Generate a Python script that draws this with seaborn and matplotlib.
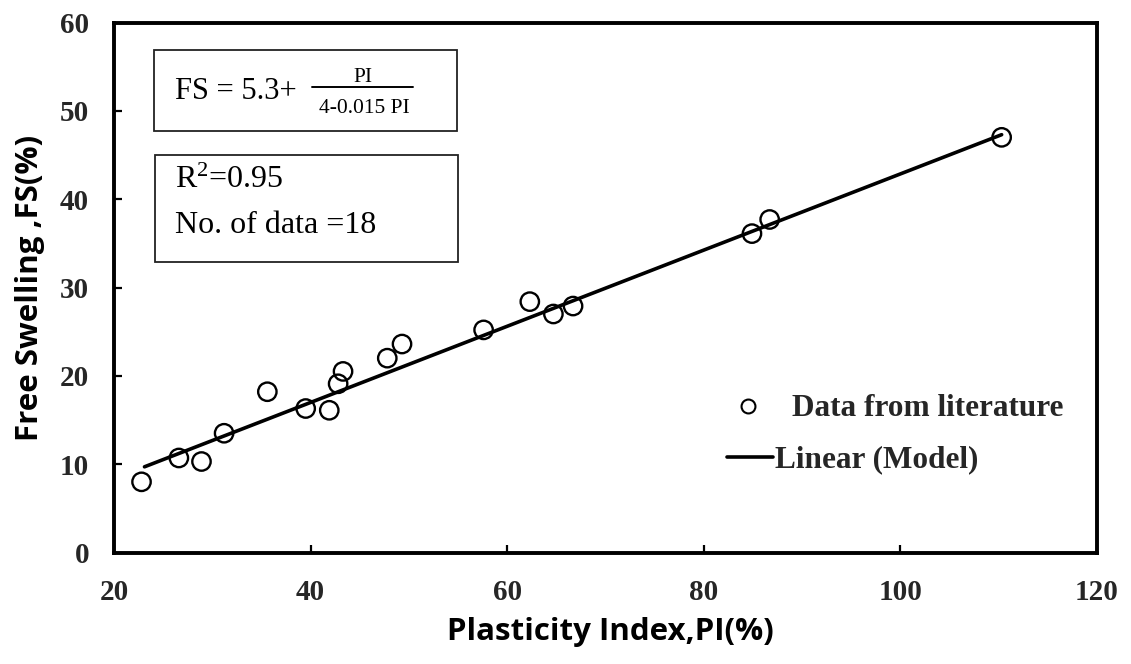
import matplotlib
matplotlib.use("Agg")
import matplotlib.pyplot as plt
from matplotlib.lines import Line2D
from matplotlib.patches import Rectangle
import seaborn as sns
import pandas as pd

# ---- data ----
pi_values = [22.8, 26.6, 28.9, 31.2, 35.6, 39.5, 41.9, 42.8, 43.3,
             47.8, 49.3, 57.6, 62.3, 64.7, 66.7, 84.9, 86.7, 110.3]
fs_values = [8.0, 10.7, 10.3, 13.5, 18.2, 16.3, 16.1, 19.1, 20.5,
             22.0, 23.6, 25.2, 28.4, 27.0, 27.9, 36.1, 37.7, 47.0]
model_pi = [23.1, 110.3]
model_fs = [9.7, 47.3]
x_ticks = [20, 40, 60, 80, 100, 120]
y_ticks = [0, 10, 20, 30, 40, 50, 60]

df = pd.DataFrame({"PI": pi_values, "FS": fs_values})
line_df = pd.DataFrame({"PI": model_pi, "FS": model_fs})

sns.set_theme(style="white")
plt.rcParams["font.family"] = ["Liberation Serif", "DejaVu Serif"]
plt.rcParams["mathtext.fontset"] = "custom"
plt.rcParams["mathtext.rm"] = "Liberation Serif"
plt.rcParams["mathtext.it"] = "Liberation Serif:italic"
plt.rcParams["mathtext.bf"] = "Liberation Serif:bold"

W, H = 1131, 664
L, R, T, B = 114, 1097, 22.5, 552.5
fig = plt.figure(figsize=(W / 100, H / 100), dpi=100)
ax = fig.add_axes([L / W, 1 - B / H, (R - L) / W, (B - T) / H])


def axx(px):
    return (px - L) / (R - L)


def axy(py):
    return (B - py) / (B - T)


sns.lineplot(data=line_df, x="PI", y="FS", ax=ax, color="black",
             linewidth=2.6, zorder=2)
sns.scatterplot(data=df, x="PI", y="FS", ax=ax, s=175, marker="o",
                facecolor="none", edgecolor="black", linewidth=1.7,
                zorder=3)

ax.set_xlim(20, 120)
ax.set_ylim(0, 60)
ax.set_xticks(x_ticks)
ax.set_yticks(y_ticks)
ax.set_xticklabels([str(v) for v in x_ticks])
ax.set_yticklabels([str(v) for v in y_ticks])
for lab in ax.get_xticklabels() + ax.get_yticklabels():
    lab.set_fontfamily("Liberation Serif")
    lab.set_fontweight("bold")
    lab.set_fontsize(21)
ax.tick_params(axis="both", direction="in", length=6, width=1.6,
               color="black")
ax.tick_params(axis="x", pad=19)
ax.tick_params(axis="y", pad=18)
ax.tick_params(axis="x", which="both", top=False, bottom=True)
ax.tick_params(axis="y", which="both", right=False, left=True)

for sp in ax.spines.values():
    sp.set_visible(True)
    sp.set_color("black")
    sp.set_linewidth(2.8)

ax.set_xlabel("Plasticity Index,PI(%)", fontfamily="Open Sans",
              fontweight="bold", fontsize=22.5, color="black")
ax.set_ylabel("Free Swelling ,FS(%)", fontfamily="Open Sans",
              fontweight="bold", fontsize=22.5, color="black")
ax.xaxis.set_label_coords(axx(610), axy(617))
ax.yaxis.set_label_coords(axx(45), axy(288))

# ---- equation box ----
ax.add_patch(Rectangle((axx(154), axy(131)), axx(457) - axx(154),
                       axy(50) - axy(131), transform=ax.transAxes,
                       fill=False, edgecolor="#222222", linewidth=1.3,
                       zorder=4))
ax.text(axx(175), axy(88), "FS = 5.3+", transform=ax.transAxes,
        fontsize=22, fontfamily="Liberation Serif", va="center_baseline",
        ha="left", color="black")
ax.add_line(Line2D([axx(312), axx(413)], [axy(87.3), axy(87.3)],
                   transform=ax.transAxes, color="black", linewidth=1.4))
ax.text(axx(362.5), axy(82), "PI", transform=ax.transAxes, fontsize=15.5,
        fontfamily="Liberation Serif", ha="center", va="baseline",
        color="black")
ax.text(axx(364), axy(113), "4-0.015 PI", transform=ax.transAxes,
        fontsize=15.5, fontfamily="Liberation Serif", ha="center",
        va="baseline", color="black")

# ---- statistics box ----
ax.add_patch(Rectangle((axx(155), axy(262)), axx(458) - axx(155),
                       axy(155) - axy(262), transform=ax.transAxes,
                       fill=False, edgecolor="#222222", linewidth=1.3,
                       zorder=4))
ax.text(axx(175), axy(188), r"R$^{\mathrm{2}}$=0.95", transform=ax.transAxes,
        fontsize=23, fontfamily="Liberation Serif", ha="left",
        va="baseline", color="black")
ax.text(axx(175), axy(233), "No. of data =18", transform=ax.transAxes,
        fontsize=23, fontfamily="Liberation Serif", ha="left",
        va="baseline", color="black")

# ---- legend entries ----
fs_leg = 22.5
px_per_em = fs_leg * 100 / 72
h1 = [Line2D([], [], marker="o", linestyle="none", markerfacecolor="white",
             markeredgecolor="black", markersize=10, markeredgewidth=1.5)]
leg1 = ax.legend(h1, ["Data from literature"], loc="center left",
                 bbox_to_anchor=(axx(726), axy(409)), frameon=False,
                 borderpad=0, borderaxespad=0,
                 handlelength=44 / px_per_em,
                 handletextpad=22 / px_per_em, numpoints=1,
                 prop={"family": "Liberation Serif", "weight": "bold",
                       "size": fs_leg})
ax.add_artist(leg1)
h2 = [Line2D([], [], color="black", linewidth=2.6)]
ax.legend(h2, ["Linear (Model)"], loc="center left",
          bbox_to_anchor=(axx(727), axy(460)), frameon=False,
          borderpad=0, borderaxespad=0, handlelength=46 / px_per_em,
          handletextpad=2 / px_per_em,
          prop={"family": "Liberation Serif", "weight": "bold",
                "size": fs_leg})

fig.savefig("out.png", dpi=100)
